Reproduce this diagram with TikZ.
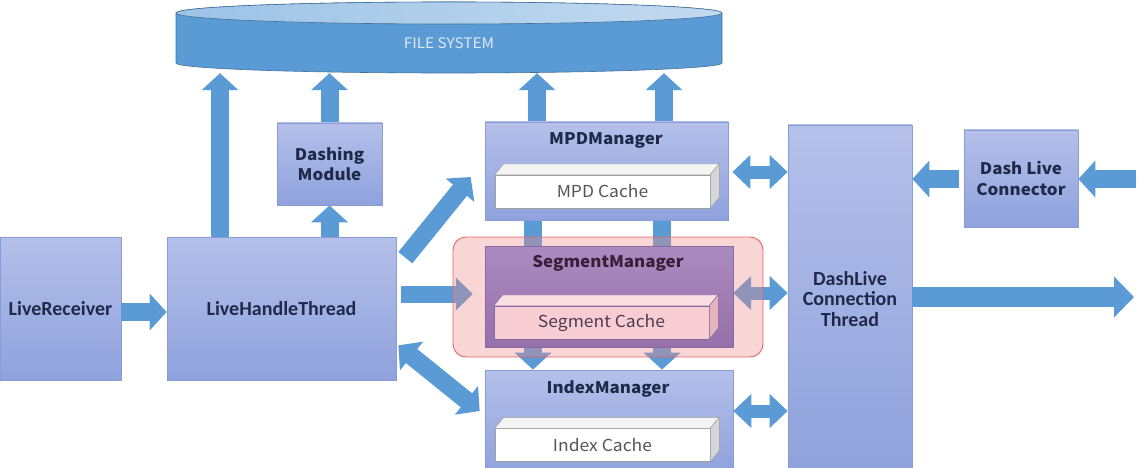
\documentclass[tikz,border=0pt]{standalone}
\usepackage{fontspec}
\newfontfamily\krfont[FakeStretch=1.06]{Noto Sans CJK KR}
\newfontfamily\calfont{Carlito}
\usetikzlibrary{arrows.meta}
\definecolor{ablue}{HTML}{5B9BD5}
\definecolor{lavtop}{HTML}{B5C0EA}
\definecolor{lavbot}{HTML}{8FA2DD}
\definecolor{lavline}{HTML}{8A9CD6}
\definecolor{navy}{HTML}{1F2A4A}
\definecolor{fsline}{HTML}{41719C}
\definecolor{fstopL}{HTML}{9DC3E6}
\definecolor{fstopR}{HTML}{C3DAF0}
\definecolor{fstext}{HTML}{DDE8F6}
\definecolor{segred}{HTML}{E06666}
\definecolor{segpink}{HTML}{F08A8A}
\definecolor{purtop}{HTML}{AA8BC0}
\definecolor{purbot}{HTML}{9670AA}
\definecolor{purline}{HTML}{8A68A0}
\definecolor{maroon}{HTML}{3A1E38}
\definecolor{cachetop}{HTML}{F4F4F4}
\definecolor{cacheside}{HTML}{D6D6D6}
\definecolor{cacheline}{HTML}{A0A0A0}
\definecolor{scfront}{HTML}{F7CDD3}
\definecolor{sctop}{HTML}{FADFE2}
\definecolor{scside}{HTML}{E3B4BC}
\definecolor{ctext}{HTML}{555555}
\tikzset{
  box/.style={draw=lavline, line width=0.7pt, top color=lavtop, bottom color=lavbot,
    inner sep=0pt, text=navy, align=center},
  krb/.style={font=\krfont\bfseries\fontsize{16}{20.5}\selectfont, text=navy, align=center, inner sep=0pt},
  calb/.style={font=\calfont\bfseries\fontsize{20}{20.8}\selectfont},
  cachebox/.style={draw=cacheline, line width=0.5pt, fill=white, inner sep=0pt,
    minimum width=215pt, minimum height=33pt, text=ctext,
    font=\krfont\fontsize{16.5}{18}\selectfont},
  fat/.style={draw=ablue, line width=18pt, -{Triangle[length=17pt,width=36pt]}},
  fatb/.style={draw=ablue, line width=13pt, {Triangle[length=18pt,width=33pt]}-{Triangle[length=18pt,width=33pt]}},
}
\begin{document}
\begin{tikzpicture}[x=1pt,y=-1pt]
\useasboundingbox (0,0) rectangle (1140,468);

% ---------- boxes (positions) ----------
\node[box, calb, minimum width=121pt, minimum height=143pt] (lr) at (60.5,308.5) {LiveReceiver};
\node[box, calb, minimum width=229pt, minimum height=143pt] (lht) at (281.5,308.5) {LiveHandleThread};
\node[box, minimum width=105pt, minimum height=82pt] (dm) at (329.5,164) {};
\node[box, minimum width=243pt, minimum height=98pt] (mpd) at (606.5,171) {};
\node[box, minimum width=248pt, minimum height=102pt] (idx) at (609,421) {};
\node[box, calb, minimum width=124pt, minimum height=348pt] (dlc) at (850,299) {DashLive\\Connection\\Thread};
\node[box, krb, minimum width=114pt, minimum height=97pt] (dcon) at (1021,178.5) {Dash Live\\Connector};
\node[inner sep=0pt, minimum width=248pt, minimum height=101pt] (seg) at (609,296.5) {};
\node[inner sep=0pt, minimum width=546pt, minimum height=60pt] (fs) at (449,43) {};

\coordinate (inR) at (1136,179);
\coordinate (outR) at (1134,297);

% ---------- arrows ----------
\draw[fat] (lr.east |- 0,312) -- (lht.west |- 0,312);
\draw[fat] (lht.north -| 220,0) -- (fs.south -| 220,0);
\draw[fat] (lht.north -| dm.south) -- (dm.south);
\draw[fat] (dm.north) -- (fs.south -| dm.north);
\draw[fat] (mpd.north -| 537,0) -- (fs.south -| 537,0);
\draw[fat] (mpd.north -| 664,0) -- (fs.south -| 664,0);
\draw[fat] ([shift={(9,21)}]lht.north east) -- ([shift={(-14,6)}]mpd.west);
\draw[fat, line width=17pt, -{Triangle[length=17pt,width=32pt]}] ([xshift=5pt]lht.east |- 0,294) -- ([xshift=-12pt]seg.west |- 0,294);
\draw[fat, {Triangle[length=17pt,width=36pt]}-{Triangle[length=17pt,width=36pt]}] ([shift={(2,-35)}]lht.south east) -- ([shift={(-5,-10)}]idx.west);
\draw[fat] (mpd.south -| 533,0) -- (idx.north -| 533,0);
\draw[fat] (mpd.south -| 662,0) -- (idx.north -| 662,0);
\draw[fatb] ([xshift=4pt]mpd.east |- 0,172) -- (dlc.west |- 0,172);
\draw[fatb] (seg.east |- 0,293) -- (dlc.west |- 0,293);
\draw[fatb] (idx.east |- 0,411) -- (dlc.west |- 0,411);
\draw[fat] ([xshift=-5pt]dcon.west |- 0,179) -- (dlc.east |- 0,179);
\draw[fat] (inR) -- (dcon.east |- inR);
\draw[fat, line width=20pt, -{Triangle[length=20pt,width=40pt]}] (dlc.east |- outR) -- (outR);

% ---------- redraw boxes over arrows ----------
\node[box, minimum width=105pt, minimum height=82pt] at (dm) {};
\node[krb] at (dm) {Dashing\\Module};
\node[box, minimum width=243pt, minimum height=98pt] at (mpd) {};
\node[box, minimum width=248pt, minimum height=102pt] at (idx) {};

% ---------- file system cylinder ----------
\filldraw[fill=ablue, draw=fsline, line width=0.6pt]
  (176,13) -- (176,63) arc[start angle=180, end angle=360, x radius=273pt, y radius=10pt]
  -- (722,13) arc[start angle=0, end angle=180, x radius=273pt, y radius=11pt] -- cycle;
\shade[left color=fstopL, right color=fstopR]
  (449,13) ellipse[x radius=273pt, y radius=11pt];
\draw[fsline, line width=0.6pt] (449,13) ellipse[x radius=273pt, y radius=11pt];
\node[font=\krfont\fontsize{14.5}{16}\selectfont, text=fstext] at (fs) {FILE SYSTEM};

% ---------- segment highlight ----------
\node[draw=segred, line width=0.9pt, fill=segpink, fill opacity=0.36, draw opacity=1,
      rounded corners=13pt, minimum width=310pt, minimum height=120pt, inner sep=0pt]
      (seghl) at (608,297) {};
\node[draw=purline, line width=0.7pt, top color=purtop, bottom color=purbot,
      minimum width=248pt, minimum height=101pt, inner sep=0pt] at (seg) {};

% ---------- titles ----------
\node[krb] (mpdt) at (606,140) {MPDManager};
\node[krb, text=maroon] (segt) at (608,263) {SegmentManager};
\node[krb] (idxt) at (608,389) {IndexManager};

% ---------- caches ----------
\node[cachebox] (mpdc) at (602.5,191.5) {MPD Cache};
\filldraw[fill=cachetop, draw=cacheline, line width=0.5pt] (mpdc.north west) -- ++(9,-11) -- ([shift={(9,-11)}]mpdc.north east) -- (mpdc.north east) -- cycle;
\filldraw[fill=cacheside, draw=cacheline, line width=0.5pt] (mpdc.north east) -- ++(9,-11) -- ([shift={(9,-11)}]mpdc.south east) -- (mpdc.south east) -- cycle;

\node[cachebox, fill=scfront, draw=purline, text=maroon!70!gray] (segc) at (601.5,322.5) {Segment Cache};
\filldraw[fill=sctop, draw=purline, line width=0.5pt] (segc.north west) -- ++(9,-11) -- ([shift={(9,-11)}]segc.north east) -- (segc.north east) -- cycle;
\filldraw[fill=scside, draw=purline, line width=0.5pt] (segc.north east) -- ++(9,-11) -- ([shift={(9,-11)}]segc.south east) -- (segc.south east) -- cycle;

\node[cachebox] (idxc) at (602.5,445) {Index Cache};
\filldraw[fill=cachetop, draw=cacheline, line width=0.5pt] (idxc.north west) -- ++(9,-11) -- ([shift={(9,-11)}]idxc.north east) -- (idxc.north east) -- cycle;
\filldraw[fill=cacheside, draw=cacheline, line width=0.5pt] (idxc.north east) -- ++(9,-11) -- ([shift={(9,-11)}]idxc.south east) -- (idxc.south east) -- cycle;
\end{tikzpicture}
\end{document}
